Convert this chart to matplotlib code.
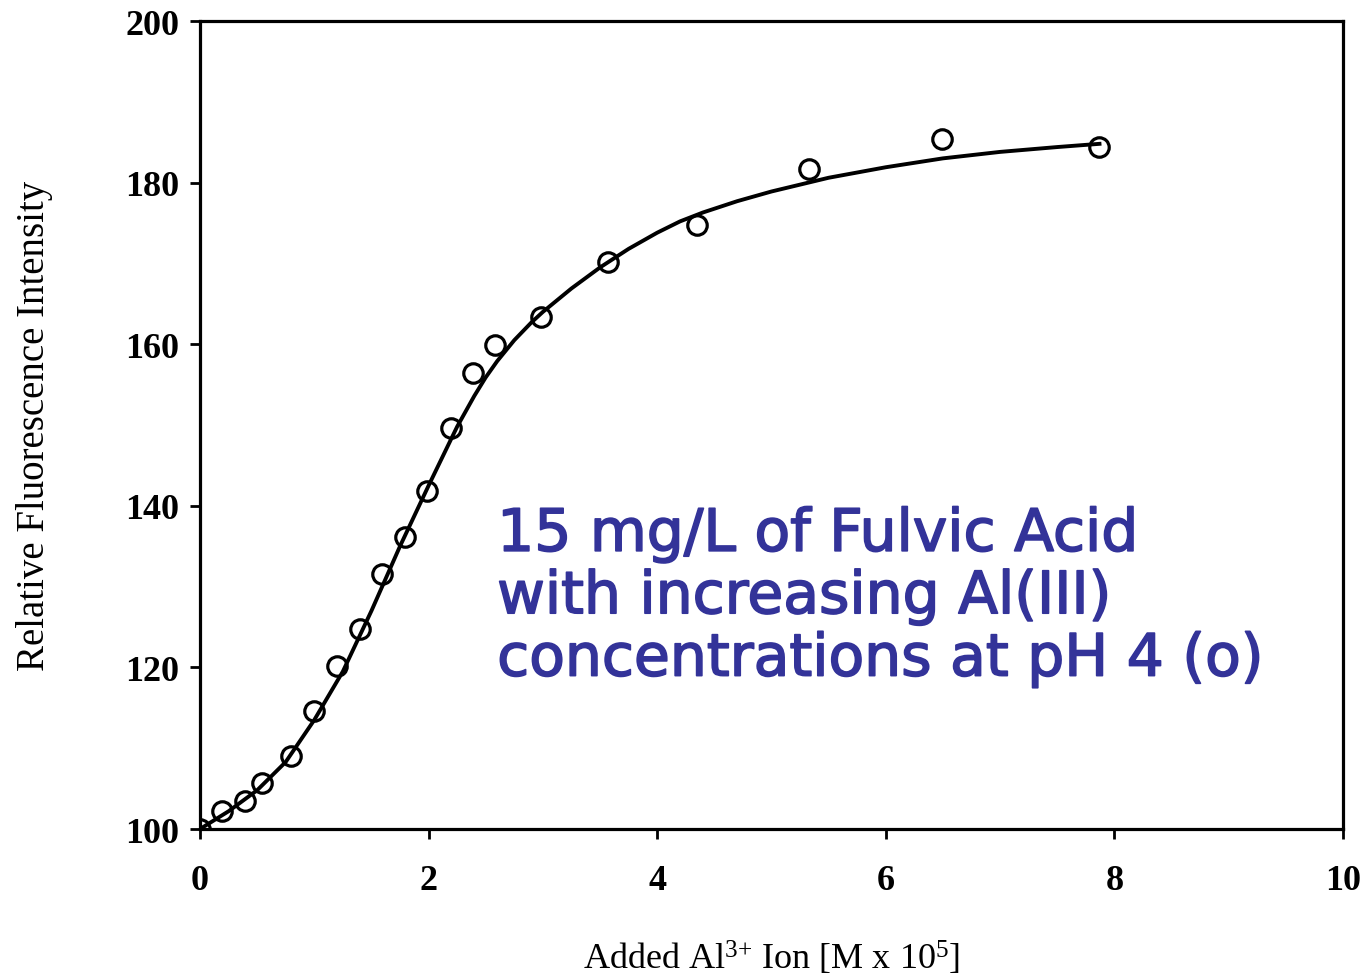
import matplotlib.pyplot as plt
import matplotlib.patheffects as pe
import numpy as np

plt.rcParams['mathtext.fontset'] = 'custom'
plt.rcParams['mathtext.rm'] = 'Liberation Serif'
plt.rcParams['mathtext.it'] = 'Liberation Serif:italic'

# measured points (open circles)
al_added = [0.0, 0.19, 0.39, 0.54, 0.80, 1.0, 1.2, 1.4, 1.59, 1.79, 1.99,
            2.2, 2.39, 2.58, 2.98, 3.57, 4.35, 5.33, 6.49, 7.87]
fluo = [100.0, 102.2, 103.5, 105.7, 109.0, 114.6, 120.2, 124.8, 131.6, 136.1, 141.8,
        149.6, 156.4, 159.9, 163.4, 170.2, 174.8, 181.7, 185.4, 184.4]

# fitted curve
curve_x = [0.0, 0.25, 0.5, 0.75, 1.0, 1.25, 1.5, 1.75, 2.0, 2.25, 2.4, 2.5, 2.6, 2.75,
           2.9, 3.0, 3.25, 3.5, 3.75, 4.0, 4.2, 4.4, 4.7, 5.0, 5.5, 6.0, 6.5, 7.0, 7.5, 7.87]
curve_y = [100.0, 102.2, 104.8, 108.3, 113.5, 119.5, 127.0, 135.0, 142.5, 149.8, 153.6, 155.9,
           157.9, 160.5, 162.7, 164.0, 166.9, 169.5, 171.8, 173.8, 175.2, 176.3, 177.7, 178.9,
           180.6, 181.9, 183.0, 183.8, 184.4, 184.8]

xticks = [0, 2, 4, 6, 8, 10]
yticks = [100, 120, 140, 160, 180, 200]

serif = 'Liberation Serif'

fig = plt.figure(figsize=(13.67, 9.78), dpi=100)
ax = fig.add_axes([0.1463, 0.1513, 0.8361, 0.8262])

ax.plot(curve_x, curve_y, color='black', lw=2.8, zorder=2, solid_joinstyle='round')
ax.plot(al_added, fluo, 'o', mfc='none', mec='black', ms=14, mew=2.3, zorder=3)

ax.set_xlim(0, 10)
ax.set_ylim(100, 200)
ax.set_xticks(xticks)
ax.set_yticks(yticks)
for s in ax.spines.values():
    s.set_linewidth(2.3)
ax.tick_params(direction='out', length=7, width=2)
ax.tick_params(axis='x', pad=18)
ax.tick_params(axis='y', pad=8)
for lab in ax.get_xticklabels() + ax.get_yticklabels():
    lab.set_fontfamily(serif)
    lab.set_fontsize(26)
    lab.set_fontweight('bold')

ax.set_xlabel(r'Added Al$^{3{+}}$ Ion [M x 10$^{5}$]', fontfamily=serif, fontsize=26, labelpad=30)
ax.set_ylabel('Relative Fluorescence Intensity', fontfamily=serif, fontsize=28, labelpad=52)

ax.text(2.6, 140.0, '15 mg/L of Fulvic Acid\nwith increasing Al(III)\nconcentrations at pH 4 (o)',
        color='#333399', fontsize=42, fontfamily='DejaVu Sans', va='top', ha='left',
        linespacing=1.12,
        path_effects=[pe.withStroke(linewidth=1.2, foreground='#333399')])

fig.savefig('out.png', dpi=100)
